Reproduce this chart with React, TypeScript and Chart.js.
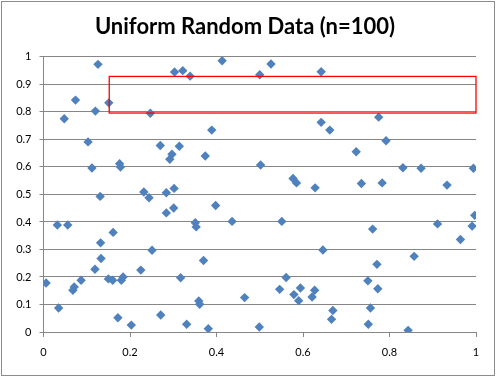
import React, { useEffect, useRef } from "react";
import { Chart, registerables } from "chart.js";

Chart.register(...registerables);

const titleText = "Uniform Random Data (n=100)";

const xValues = [
  0.006, 0.032, 0.056, 0.035, 0.068, 0.071, 0.087, 0.131, 0.132, 0.133,
  0.119, 0.161, 0.150, 0.160, 0.180, 0.184, 0.172, 0.203, 0.225, 0.232,
  0.244, 0.251, 0.271, 0.284, 0.284, 0.302, 0.301, 0.398, 0.351, 0.353,
  0.436, 0.551, 0.585, 0.628, 0.646, 0.370, 0.317, 0.561, 0.546, 0.594,
  0.579, 0.590, 0.627, 0.621, 0.465, 0.359, 0.361, 0.331, 0.381, 0.499,
  0.735, 0.783, 0.933, 0.997, 0.991, 0.911, 0.761, 0.964, 0.857, 0.771,
  0.750, 0.773, 0.756, 0.669, 0.666, 0.751, 0.843, 0.642, 0.642, 0.662,
  0.775, 0.792, 0.723, 0.831, 0.873, 0.994, 0.303, 0.322, 0.339, 0.413,
  0.500, 0.526, 0.389, 0.270, 0.314, 0.297, 0.292, 0.374, 0.502, 0.577,
  0.126, 0.048, 0.074, 0.120, 0.151, 0.103, 0.112, 0.176, 0.178, 0.247,
];

const yValues = [
  0.178, 0.389, 0.389, 0.087, 0.152, 0.164, 0.188, 0.493, 0.324, 0.267,
  0.228, 0.362, 0.193, 0.188, 0.188, 0.200, 0.052, 0.025, 0.225, 0.509,
  0.488, 0.297, 0.062, 0.506, 0.433, 0.522, 0.451, 0.460, 0.397, 0.382,
  0.402, 0.402, 0.542, 0.524, 0.298, 0.260, 0.197, 0.198, 0.155, 0.160,
  0.136, 0.114, 0.152, 0.127, 0.125, 0.113, 0.101, 0.028, 0.012, 0.018,
  0.540, 0.542, 0.534, 0.424, 0.385, 0.393, 0.374, 0.336, 0.275, 0.246,
  0.186, 0.157, 0.087, 0.078, 0.046, 0.028, 0.006, 0.946, 0.762, 0.734,
  0.781, 0.695, 0.655, 0.597, 0.595, 0.595, 0.945, 0.950, 0.930, 0.986,
  0.935, 0.974, 0.734, 0.678, 0.675, 0.646, 0.628, 0.640, 0.607, 0.558,
  0.973, 0.775, 0.843, 0.803, 0.833, 0.691, 0.596, 0.612, 0.600, 0.795,
];

const xTicks = [0, 0.2, 0.4, 0.6, 0.8, 1];
const yTicks = [0, 0.1, 0.2, 0.3, 0.4, 0.5, 0.6, 0.7, 0.8, 0.9, 1];

// highlighted region (data units)
const boxX = [0.152, 1.0];
const boxY = [0.796, 0.929];

const GRID = "#868686";

const framePlugin = {
  id: "frame",
  beforeDraw(chart: any) {
    const { ctx, width, height } = chart;
    ctx.save();
    ctx.fillStyle = "#ffffff";
    ctx.fillRect(0, 0, width, height);
    ctx.strokeStyle = "#8c8c8c";
    ctx.lineWidth = 1;
    ctx.strokeRect(1.5, 1.5, width - 4, height - 4);
    ctx.restore();
  },
};

const boxPlugin = {
  id: "redBox",
  afterDatasetsDraw(chart: any) {
    const { ctx, scales } = chart;
    const x1 = scales.x.getPixelForValue(boxX[0]);
    const x2 = scales.x.getPixelForValue(boxX[1]);
    const y1 = scales.y.getPixelForValue(boxY[1]);
    const y2 = scales.y.getPixelForValue(boxY[0]);
    ctx.save();
    ctx.strokeStyle = "#ff0000";
    ctx.lineWidth = 1.3;
    ctx.strokeRect(x1, y1, x2 - x1, y2 - y1);
    ctx.restore();
  },
};

export default function App() {
  const ref = useRef<HTMLCanvasElement>(null);

  useEffect(() => {
    if (!ref.current) return;
    Chart.defaults.font.family = "Lato";
    const data = xValues.map((x, i) => ({ x, y: yValues[i] }));
    const chart = new Chart(ref.current, {
      type: "scatter",
      data: {
        datasets: [
          {
            data,
            pointStyle: "rectRot",
            pointRadius: 4.7,
            backgroundColor: "#4F81BD",
            borderColor: "#4F81BD",
            borderWidth: 0,
          },
        ],
      },
      options: {
        responsive: false,
        animation: false,
        layout: { padding: { left: 0, right: 7, top: 0, bottom: 0 } },
        plugins: {
          legend: { display: false },
          tooltip: { enabled: false },
          title: {
            display: true,
            text: titleText,
            color: "#000000",
            font: { family: "Lato", weight: "bold", size: 22 },
            padding: { top: 13.5, bottom: 17 },
          },
        },
        scales: {
          x: {
            type: "linear",
            min: 0,
            max: 1,
            afterBuildTicks: (s: any) => {
              s.ticks = xTicks.map((v) => ({ value: v }));
            },
            afterFit: (s: any) => {
              s.height = 46;
            },
            ticks: {
              color: "#000000",
              font: { size: 11 },
              padding: 9,
              maxRotation: 0,
              callback: (v: any) => String(v),
            },
            grid: {
              drawOnChartArea: false,
              drawTicks: true,
              tickLength: 5,
              color: GRID,
            },
            border: { display: true, color: GRID },
          },
          y: {
            type: "linear",
            min: 0,
            max: 1,
            afterBuildTicks: (s: any) => {
              s.ticks = yTicks.map((v) => ({ value: v }));
            },
            afterFit: (s: any) => {
              s.width = 43.5;
            },
            ticks: {
              color: "#000000",
              font: { size: 11 },
              padding: 8,
              callback: (v: any) => String(v),
            },
            grid: {
              drawTicks: true,
              tickLength: 4,
              color: GRID,
            },
            border: { display: true, color: GRID },
          },
          yRightSpace: {
            type: "linear",
            position: "right",
            min: 0,
            max: 1,
            display: true,
            afterFit: (s: any) => {
              s.width = 14;
            },
            ticks: { display: false },
            grid: { display: false },
            border: { display: false },
          },
        },
      },
      plugins: [framePlugin, boxPlugin],
    });
    return () => chart.destroy();
  }, []);

  return (
    <div style={{ position: "fixed", left: 0, top: 0, width: 497, height: 378 }}>
      <canvas ref={ref} width={497} height={378} style={{ display: "block" }} />
    </div>
  );
}
